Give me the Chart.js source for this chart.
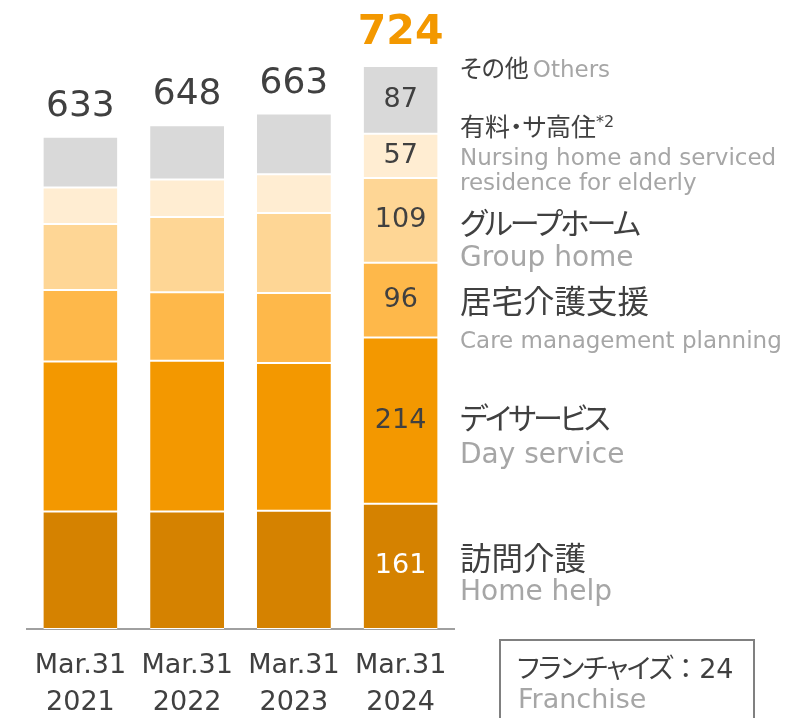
<!DOCTYPE html>
<html>
<head>
<meta charset="utf-8">
<script src="https://cdn.jsdelivr.net/npm/chart.js@4"></script>
<style>
  body{margin:0;background:#fff;}
  #wrap{position:relative;width:792px;height:718px;overflow:hidden;}
  .lb{position:absolute;left:460px;white-space:nowrap;transform:translateY(-50%);line-height:1;}
  .jp{font-family:"Noto Sans CJK JP",sans-serif;font-feature-settings:"palt";color:#404040;}
  .en{font-family:"DejaVu Sans",sans-serif;color:#a6a6a6;}
  #fr{position:absolute;left:499px;top:639px;width:256px;height:100px;border:2px solid #808080;box-sizing:border-box;}
</style>
</head>
<body>
<div id="wrap">
  <canvas id="ch" width="792" height="718"></canvas>

  <div class="lb" style="top:68px"><span class="jp" style="font-size:24px">その他</span> <span class="en" style="font-size:23px">Others</span></div>
  <div class="lb jp" style="top:125px;font-size:25px">有料・サ高住<sup style="font-family:'DejaVu Sans';font-size:16px;vertical-align:9px">*2</sup></div>
  <div class="lb en" style="top:157px;font-size:23px">Nursing home and serviced</div>
  <div class="lb en" style="top:182px;font-size:23px">residence for elderly</div>
  <div class="lb jp" style="top:221px;font-size:30px;letter-spacing:-2.6px">グループホーム</div>
  <div class="lb en" style="top:257px;font-size:28px">Group home</div>
  <div class="lb jp" style="top:300px;font-size:31.5px">居宅介護支援</div>
  <div class="lb en" style="top:340px;font-size:23px">Care management planning</div>
  <div class="lb jp" style="top:416px;font-size:30px;letter-spacing:-3.2px">デイサービス</div>
  <div class="lb en" style="top:454px;font-size:28px">Day service</div>
  <div class="lb jp" style="top:557px;font-size:31.5px">訪問介護</div>
  <div class="lb en" style="top:591px;font-size:28px">Home help</div>

  <div id="fr"></div>
  <div class="lb jp" style="left:517px;top:667px;font-size:27px"><span style="letter-spacing:-1.3px">フランチャイズ</span><span style="font-feature-settings:normal">：</span><span style="font-family:'DejaVu Sans'">24</span></div>
  <div class="lb en" style="left:518px;top:698px;font-size:27px">Franchise</div>
</div>
<script>
// number of offices at each fiscal year end
const categories = [['Mar.31','2021'],['Mar.31','2022'],['Mar.31','2023'],['Mar.31','2024']];
const homeHelp   = [151, 151, 152, 161];
const dayService = [193, 194, 190, 214];
const careMgmt   = [92, 88, 90, 96];
const groupHome  = [85, 97, 103, 109];
const nursing    = [47, 48, 50, 57];
const others     = [65, 70, 78, 87];
const totals     = [633, 648, 663, 724];

const series = [
  {label:'Home help',  data:homeHelp,   color:'#d58200', text:'#ffffff'},
  {label:'Day service',data:dayService, color:'#f39800', text:'#404040'},
  {label:'Care management planning', data:careMgmt, color:'#feb84a', text:'#404040'},
  {label:'Group home', data:groupHome,  color:'#fed695', text:'#404040'},
  {label:'Nursing home', data:nursing,  color:'#ffedd2', text:'#404040'},
  {label:'Others',     data:others,     color:'#d9d9d9', text:'#404040'}
];

// value labels: segment values on the last bar, totals above every bar
const labelPlugin = {
  id:'labels',
  afterDatasetsDraw(chart){
    const ctx = chart.ctx, last = categories.length-1;
    ctx.save();
    ctx.textAlign='center'; ctx.textBaseline='middle';
    ctx.font='27px "DejaVu Sans"';
    chart.data.datasets.forEach((ds,i)=>{
      const el = chart.getDatasetMeta(i).data[last];
      ctx.fillStyle = series[i].text;
      ctx.fillText(String(ds.data[last]), el.x, (el.y+el.base)/2);
    });
    ctx.textBaseline='alphabetic';
    const top = chart.getDatasetMeta(series.length-1).data;
    totals.forEach((t,j)=>{
      const el = top[j];
      if(j===last){
        ctx.font='bold 41px "DejaVu Sans"'; ctx.fillStyle='#f39800';
        ctx.fillText(String(t), el.x, el.y-22);
      } else {
        ctx.font='36px "DejaVu Sans"'; ctx.fillStyle='#404040';
        ctx.fillText(String(t), el.x, el.y-21);
      }
    });
    ctx.restore();
  }
};

new Chart(document.getElementById('ch').getContext('2d'),{
  type:'bar',
  data:{labels:categories,
    datasets:series.map(s=>({label:s.label,data:s.data,backgroundColor:s.color,
      borderColor:'#ffffff',borderWidth:{top:1,bottom:1,left:0,right:0},borderSkipped:false,
      categoryPercentage:1,barPercentage:0.693}))},
  options:{responsive:false,animation:false,
    layout:{padding:{left:27,right:338,top:7,bottom:0}},
    plugins:{legend:{display:false},tooltip:{enabled:false}},
    scales:{
      x:{stacked:true,
         grid:{display:false,drawTicks:false},
         border:{display:true,color:'#a0a0a0',width:2},
         ticks:{color:'#404040',padding:19,font:{family:'DejaVu Sans',size:27,lineHeight:1.35},maxRotation:0},
         afterFit(s){ s.height=89; }},
      y:{stacked:true,display:false,min:0,max:800}
    }}
  ,plugins:[labelPlugin]
});
</script>
</body>
</html>
